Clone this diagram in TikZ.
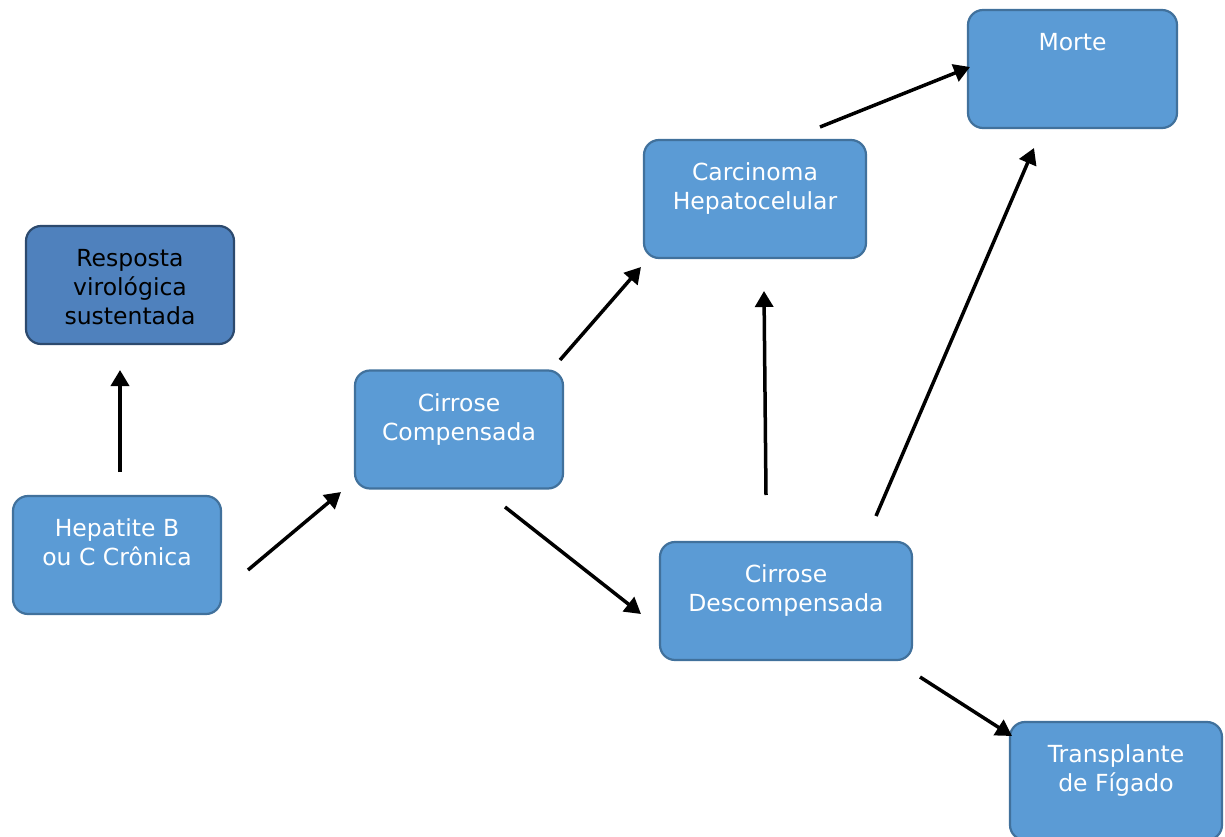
\documentclass[tikz,border=0pt]{standalone}
\usepackage{fontspec}
\setmainfont{DejaVu Sans}
\usetikzlibrary{arrows.meta}
\definecolor{boxfill}{HTML}{5B9BD5}
\definecolor{boxline}{HTML}{41719C}
\definecolor{darkfill}{HTML}{4F81BD}
\definecolor{darkline}{HTML}{2C4A6E}
\newcommand{\boxtext}[1]{\parbox[c][118pt][t]{200pt}{\centering\rule{0pt}{40.5pt}#1}}
\tikzset{
  stagebox/.style={draw=boxline,fill=boxfill,text=white,line width=2.2pt,
    rounded corners=15pt,inner sep=0pt,minimum height=118pt,
    font=\fontsize{23.5}{29}\selectfont},
  svrbox/.style={stagebox,draw=darkline,fill=darkfill,text=black},
  flow/.style={line width=3.5pt,-{Triangle[length=16pt,width=18pt]}}
}
\begin{document}
\begin{tikzpicture}[x=1pt,y=-1pt]
  \useasboundingbox (0,0) rectangle (1225,837);
  \node[stagebox,minimum width=209pt] (morte) at (1072.5,69) {\boxtext{Morte}};
  \node[stagebox,minimum width=222pt] (chc) at (755,199) {\boxtext{Carcinoma\\Hepatocelular}};
  \node[svrbox,minimum width=208pt] (rvs) at (130,285) {\boxtext{Resposta\\virológica\\sustentada}};
  \node[stagebox,minimum width=208pt] (comp) at (459,429.5) {\boxtext{Cirrose\\Compensada}};
  \node[stagebox,minimum width=208pt] (hep) at (117,555) {\boxtext{Hepatite B\\ou C Crônica}};
  \node[stagebox,minimum width=252pt] (desc) at (786,601) {\boxtext{Cirrose\\Descompensada}};
  \node[stagebox,minimum width=212pt] (tx) at (1116,781) {\boxtext{Transplante\\de Fígado}};
  \coordinate (hepUp) at (120,472);
  \coordinate (rvsIn) at (120,370);
  \coordinate (hepOut) at (248,570);
  \coordinate (compIn) at (341,492);
  \coordinate (compUp) at (560,360);
  \coordinate (chcIn) at (641,267);
  \coordinate (compDown) at (505,507);
  \coordinate (descIn) at (641,614);
  \coordinate (descUp) at (766,495);
  \coordinate (chcBelow) at (764,291);
  \coordinate (descOut) at (876,516);
  \coordinate (morteBelow) at (1034,148);
  \coordinate (chcOut) at (820,127);
  \coordinate (morteIn) at (970,67);
  \coordinate (descTx) at (920,677);
  \coordinate (txIn) at (1012,736);
  \draw[flow] (hepUp) -- (rvsIn);
  \draw[flow] (hepOut) -- (compIn);
  \draw[flow] (compUp) -- (chcIn);
  \draw[flow] (compDown) -- (descIn);
  \draw[flow] (descUp) -- (chcBelow);
  \draw[flow] (descOut) -- (morteBelow);
  \draw[flow] (chcOut) -- (morteIn);
  \draw[flow] (descTx) -- (txIn);
\end{tikzpicture}
\end{document}
